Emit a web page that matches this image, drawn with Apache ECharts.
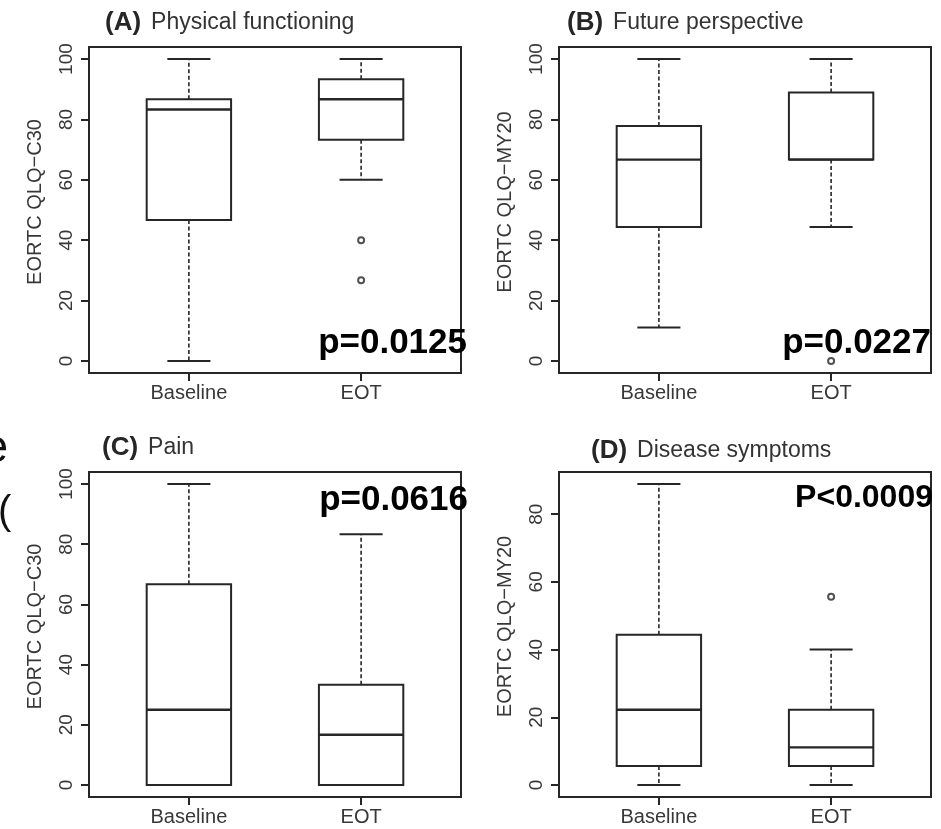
<!DOCTYPE html>
<html>
<head>
<meta charset="utf-8">
<script src="https://cdn.jsdelivr.net/npm/echarts@6/dist/echarts.min.js"></script>
<style>
  html, body { margin: 0; padding: 0; background: #ffffff; }
  #chart { width: 941px; height: 829px; }
</style>
</head>
<body>
<div id="chart"></div>
<script>
// Groups compared in every panel
const groups = ['Baseline', 'EOT'];

// Tick values of the score axes
const ticksFull = [0, 20, 40, 60, 80, 100];
const ticksSymptoms = [0, 20, 40, 60, 80];

// Box summaries: [lower whisker, Q1, median, Q3, upper whisker]
const physicalBaseline = [0, 46.7, 83.3, 86.7, 100];
const physicalEOT = [60, 73.3, 86.7, 93.3, 100];
const physicalOutliersEOT = [40, 26.7];

const futureBaseline = [11.1, 44.4, 66.7, 77.8, 100];
const futureEOT = [44.4, 66.7, 66.7, 88.9, 100];
const futureOutliersEOT = [0];

const painBaseline = [0, 0, 25, 66.7, 100];
const painEOT = [0, 0, 16.7, 33.3, 83.3];
const painOutliersEOT = [];

const symptomsBaseline = [0, 5.6, 22.2, 44.4, 88.9];
const symptomsEOT = [0, 5.6, 11.1, 22.2, 40];
const symptomsOutliersEOT = [55.6];

// Panel texts
const panelLetters = ['(A)', '(B)', '(C)', '(D)'];
const panelNames = ['Physical functioning', 'Future perspective', 'Pain', 'Disease symptoms'];
const axisNames = ['EORTC QLQ\u2212C30', 'EORTC QLQ\u2212MY20', 'EORTC QLQ\u2212C30', 'EORTC QLQ\u2212MY20'];
const pLabels = ['p=0.0125', 'p=0.0227', 'p=0.0616', 'P<0.0009'];

const FONT = "'Liberation Sans', Arial, Helvetica, sans-serif";
const INK = '#262626';
const TEXT = '#383838';

const panels = [
  { boxes: [physicalBaseline, physicalEOT], outliers: [[], physicalOutliersEOT], ticks: ticksFull,
    grid: { left: 89, top: 47, width: 372, height: 326 },
    title: { left: 100, top: 5 }, p: { x: 467, y: 343, size: 35 } },
  { boxes: [futureBaseline, futureEOT], outliers: [[], futureOutliersEOT], ticks: ticksFull,
    grid: { left: 559, top: 47, width: 372, height: 326 },
    title: { left: 562, top: 5 }, p: { x: 931, y: 343, size: 35 } },
  { boxes: [painBaseline, painEOT], outliers: [[], painOutliersEOT], ticks: ticksFull,
    grid: { left: 89, top: 472, width: 372, height: 325 },
    title: { left: 97, top: 430 }, p: { x: 468, y: 500, size: 35 } },
  { boxes: [symptomsBaseline, symptomsEOT], outliers: [[], symptomsOutliersEOT], ticks: ticksSymptoms,
    grid: { left: 559, top: 472, width: 372, height: 325 },
    title: { left: 586, top: 433 }, p: { x: 933, y: 498, size: 32 } }
];

// Box and whisker drawing in data coordinates
const BOX_HALF = 0.245;
const CAP_HALF = 0.125;

function renderBox(params, api) {
  const x = api.value(0);
  const lo = api.value(1), q1 = api.value(2), med = api.value(3), q3 = api.value(4), hi = api.value(5);
  const pt = (xx, yy) => api.coord([xx, yy]);
  const seg = (a, b, style) => ({
    type: 'line',
    shape: { x1: a[0], y1: a[1], x2: b[0], y2: b[1] },
    style: style
  });
  const dashed = { stroke: INK, lineWidth: 1.6, lineDash: [4, 2.5] };
  const solid = { stroke: INK, lineWidth: 2 };
  const tl = pt(x - BOX_HALF, q3);
  const br = pt(x + BOX_HALF, q1);
  return {
    type: 'group',
    children: [
      seg(pt(x, q3), pt(x, hi), dashed),
      seg(pt(x, q1), pt(x, lo), dashed),
      seg(pt(x - CAP_HALF, hi), pt(x + CAP_HALF, hi), solid),
      seg(pt(x - CAP_HALF, lo), pt(x + CAP_HALF, lo), solid),
      {
        type: 'rect',
        shape: { x: tl[0], y: tl[1], width: br[0] - tl[0], height: br[1] - tl[1] },
        style: { fill: '#ffffff', stroke: INK, lineWidth: 2 }
      },
      seg(pt(x - BOX_HALF, med), pt(x + BOX_HALF, med), { stroke: INK, lineWidth: 2.4 })
    ]
  };
}

const grid = [], xAxis = [], yAxis = [], series = [], title = [], graphic = [];

panels.forEach((pn, i) => {
  // R-style limits: data range widened by 4% on each side
  const all = [];
  pn.boxes.forEach(b => all.push(...b));
  pn.outliers.forEach(o => all.push(...o));
  const dMin = Math.min(...all), dMax = Math.max(...all);
  const pad = (dMax - dMin) * 0.04;

  grid.push(Object.assign({
    show: true, borderColor: INK, borderWidth: 2, backgroundColor: 'transparent'
  }, pn.grid));

  xAxis.push({
    gridIndex: i, type: 'value', min: 0.42, max: 2.58,
    splitLine: { show: false },
    axisLine: { show: true, onZero: false, lineStyle: { color: INK, width: 2 } },
    axisTick: { show: true, inside: false, length: 8, lineStyle: { color: INK, width: 2 }, customValues: [1, 2] },
    axisLabel: {
      customValues: [1, 2], formatter: v => groups[Math.round(v) - 1],
      fontFamily: FONT, fontSize: 20, color: TEXT, margin: 10
    }
  });

  yAxis.push({
    gridIndex: i, type: 'value', min: dMin - pad, max: dMax + pad,
    splitLine: { show: false },
    axisLine: { show: true, onZero: false, lineStyle: { color: INK, width: 2 } },
    axisTick: { show: true, inside: false, length: 8, lineStyle: { color: INK, width: 2 }, customValues: pn.ticks },
    axisLabel: {
      customValues: pn.ticks, rotate: 90,
      fontFamily: FONT, fontSize: 19, color: TEXT, margin: 13
    },
    name: axisNames[i], nameLocation: 'middle', nameRotate: 90, nameGap: 44,
    nameTextStyle: { fontFamily: FONT, fontSize: 20, color: TEXT, padding: [0, 0, 0, 16] }
  });

  series.push({
    type: 'custom',
    xAxisIndex: i, yAxisIndex: i,
    renderItem: renderBox,
    clip: false,
    encode: { x: 0, y: [1, 2, 3, 4, 5] },
    data: pn.boxes.map((b, g) => [g + 1].concat(b)),
    silent: true
  });

  const pts = [];
  pn.outliers.forEach((o, g) => o.forEach(v => pts.push([g + 1, v])));
  series.push({
    type: 'scatter',
    xAxisIndex: i, yAxisIndex: i,
    symbol: 'emptyCircle', symbolSize: 6,
    itemStyle: { color: INK, borderWidth: 1.6 },
    data: pts,
    silent: true,
    z: 5
  });

  title.push({
    left: pn.title.left, top: pn.title.top,
    text: '{b|' + panelLetters[i] + '}  {n|' + panelNames[i] + '}',
    textStyle: {
      fontWeight: 'normal',
      rich: {
        b: { fontFamily: FONT, fontSize: 26, fontWeight: 'bold', color: '#262626' },
        n: { fontFamily: FONT, fontSize: 23, fontWeight: 'normal', color: '#333333' }
      }
    }
  });

  graphic.push({
    type: 'text', x: pn.p.x, y: pn.p.y, z: 100,
    style: {
      text: pLabels[i], align: 'right', verticalAlign: 'middle',
      font: 'bold ' + pn.p.size + 'px ' + FONT, fill: '#000000'
    }
  });
});

// Text cut off at the left edge of the page
graphic.push({
  type: 'text', x: 8, y: 449,
  style: { text: 'e', align: 'right', verticalAlign: 'middle', font: '46px ' + FONT, fill: '#111111' }
});
graphic.push({
  type: 'text', x: -2, y: 513,
  style: { text: '(', align: 'left', verticalAlign: 'middle', font: '40px ' + FONT, fill: '#111111' }
});

const chart = echarts.init(document.getElementById('chart'), null, { renderer: 'canvas' });
chart.setOption({
  backgroundColor: '#ffffff',
  animation: false,
  title: title,
  grid: grid,
  xAxis: xAxis,
  yAxis: yAxis,
  series: series,
  graphic: graphic
});
</script>
</body>
</html>
